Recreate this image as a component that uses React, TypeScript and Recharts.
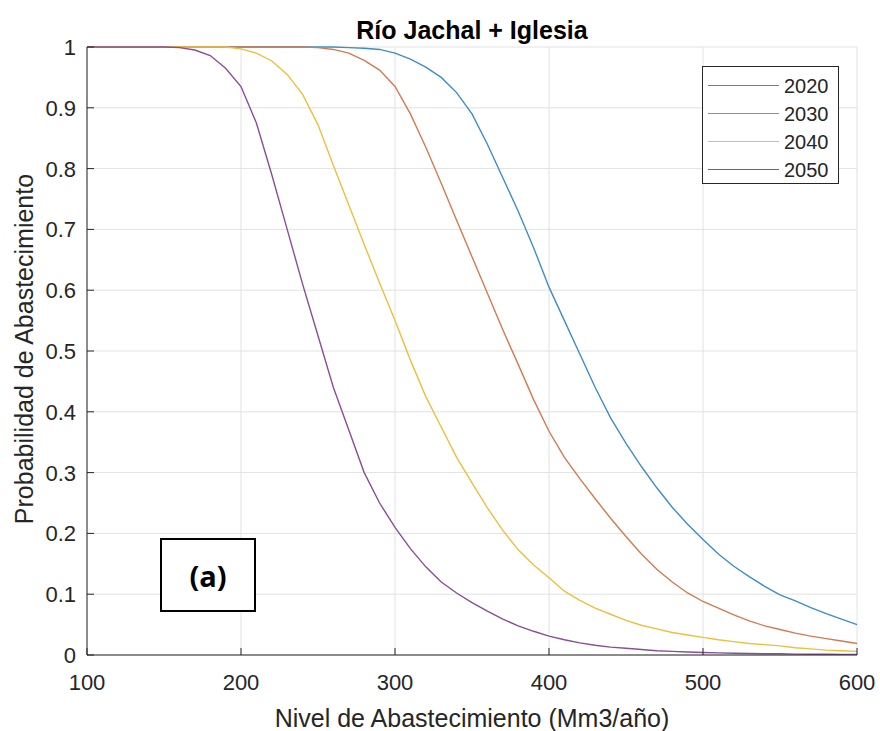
import { LineChart, Line, XAxis, YAxis, CartesianGrid } from 'recharts';

const levels = [
  100, 110, 120, 130, 140, 150, 160, 170, 180, 190,
  200, 210, 220, 230, 240, 250, 260, 270, 280, 290,
  300, 310, 320, 330, 340, 350, 360, 370, 380, 390,
  400, 410, 420, 430, 440, 450, 460, 470, 480, 490,
  500, 510, 520, 530, 540, 550, 560, 570, 580, 590, 600,
];

const p2020 = [
  1, 1, 1, 1, 1, 1, 1, 1, 1, 1,
  1, 1, 1, 1, 1, 1, 1, 0.999, 0.998, 0.996,
  0.99, 0.98, 0.967, 0.95, 0.925, 0.89, 0.84, 0.785, 0.73, 0.67,
  0.605, 0.55, 0.495, 0.44, 0.39, 0.348, 0.31, 0.275, 0.243, 0.215,
  0.19, 0.166, 0.146, 0.129, 0.113, 0.099, 0.089, 0.078, 0.068, 0.059, 0.05,
];

const p2030 = [
  1, 1, 1, 1, 1, 1, 1, 1, 1, 1,
  1, 1, 1, 1, 1, 0.999, 0.996, 0.99, 0.978, 0.962,
  0.935, 0.89, 0.835, 0.776, 0.715, 0.655, 0.595, 0.535, 0.478, 0.42,
  0.368, 0.325, 0.29, 0.257, 0.225, 0.195, 0.166, 0.141, 0.12, 0.102,
  0.088, 0.077, 0.066, 0.056, 0.048, 0.042, 0.036, 0.031, 0.027, 0.023, 0.019,
];

const p2040 = [
  1, 1, 1, 1, 1, 1, 1, 1, 1, 1,
  0.997, 0.99, 0.977, 0.955, 0.922, 0.872, 0.805, 0.74, 0.675, 0.612,
  0.55, 0.485, 0.425, 0.375, 0.325, 0.283, 0.242, 0.205, 0.173, 0.148,
  0.127, 0.105, 0.09, 0.077, 0.067, 0.057, 0.049, 0.043, 0.037, 0.033,
  0.029, 0.025, 0.022, 0.019, 0.017, 0.015, 0.012, 0.01, 0.008, 0.007, 0.006,
];

const p2050 = [
  1, 1, 1, 1, 1, 1, 0.999, 0.995, 0.986, 0.965,
  0.935, 0.875, 0.79, 0.7, 0.61, 0.525, 0.44, 0.37, 0.3, 0.25,
  0.21, 0.175, 0.145, 0.12, 0.102, 0.086, 0.072, 0.059, 0.048, 0.039,
  0.031, 0.025, 0.02, 0.016, 0.013, 0.011, 0.009, 0.007, 0.006, 0.005,
  0.004, 0.0035, 0.003, 0.0025, 0.002, 0.002, 0.0015, 0.0013, 0.0012, 0.001, 0.001,
];

const series = [
  { key: '2020', values: p2020, color: '#3d8ec6' },
  { key: '2030', values: p2030, color: '#d47a52' },
  { key: '2040', values: p2040, color: '#ecbf3e' },
  { key: '2050', values: p2050, color: '#8a4d98' },
];

const xTicks = [100, 200, 300, 400, 500, 600];
const yTicks = [0, 0.1, 0.2, 0.3, 0.4, 0.5, 0.6, 0.7, 0.8, 0.9, 1];

const data = levels.map((x, i) => {
  const row: Record<string, number> = { x };
  series.forEach((s) => { row[s.key] = s.values[i]; });
  return row;
});

const ink = '#262626';
const font = '"Liberation Sans", Arial, Helvetica, sans-serif';

const BottomTick = ({ x, y, payload }: any) => (
  <g>
    <line x1={x} x2={x} y1={y} y2={y - 7} stroke={ink} />
    <text x={x} y={y + 35} textAnchor="middle" fill={ink} fontSize={22} fontFamily={font}>
      {payload.value}
    </text>
  </g>
);

const TopTick = ({ x, y }: any) => (
  <line x1={x} x2={x} y1={y} y2={y + 7} stroke={ink} />
);

const LeftTick = ({ x, y, payload }: any) => (
  <g>
    <line x1={x} x2={x + 7} y1={y} y2={y} stroke={ink} />
    <text x={x - 11} y={y + 8} textAnchor="end" fill={ink} fontSize={22} fontFamily={font}>
      {String(Math.round(payload.value * 10) / 10)}
    </text>
  </g>
);

const RightTick = ({ x, y }: any) => (
  <line x1={x} x2={x - 7} y1={y} y2={y} stroke={ink} />
);

export default function App() {
  return (
    <div style={{ position: 'absolute', left: 0, top: 0, width: 880, height: 731, background: '#fff', fontFamily: font }}>
      <LineChart width={880} height={731} data={data} margin={{ top: 47, right: 23, left: 0, bottom: 0 }}>
        <CartesianGrid stroke="#e2e2e2" strokeWidth={1} />
        <XAxis
          dataKey="x" type="number" domain={[100, 600]} ticks={xTicks} height={76}
          tickSize={0} tickMargin={0} tickLine={false} tick={<BottomTick />}
          axisLine={{ stroke: ink }} interval={0}
        />
        <XAxis
          xAxisId="top" orientation="top" dataKey="x" type="number" domain={[100, 600]} ticks={xTicks}
          height={0} tickSize={0} tickMargin={0} tickLine={false} tick={<TopTick />}
          axisLine={{ stroke: ink }} interval={0}
        />
        <YAxis
          type="number" domain={[0, 1]} ticks={yTicks} width={87}
          tickSize={0} tickMargin={0} tickLine={false} tick={<LeftTick />}
          axisLine={{ stroke: ink }} interval={0}
        />
        <YAxis
          yAxisId="right" orientation="right" type="number" domain={[0, 1]} ticks={yTicks} width={0}
          tickSize={0} tickMargin={0} tickLine={false} tick={<RightTick />}
          axisLine={{ stroke: ink }} interval={0}
        />
        {series.map((s) => (
          <Line
            key={s.key} dataKey={s.key} type="linear" stroke={s.color} strokeWidth={1.4}
            dot={false} activeDot={false} isAnimationActive={false}
          />
        ))}
      </LineChart>

      <div style={{ position: 'absolute', left: 0, width: 880, top: 14, textAlign: 'center', paddingLeft: 64, boxSizing: 'border-box', fontSize: 25, fontWeight: 'bold', color: '#000', lineHeight: '32px' }}>
        Río Jachal + Iglesia
      </div>

      <div style={{ position: 'absolute', left: 87, width: 770, top: 702, textAlign: 'center', fontSize: 25, color: ink, lineHeight: '32px' }}>
        Nivel de Abastecimiento (Mm3/año)
      </div>

      <div style={{ position: 'absolute', left: 24, top: 349, width: 0, height: 0 }}>
        <div style={{ position: 'absolute', left: -250, top: -16, width: 500, lineHeight: '32px', textAlign: 'center', transform: 'rotate(-90deg)', fontSize: 25, color: ink, whiteSpace: 'nowrap' }}>
          Probabilidad de Abastecimiento
        </div>
      </div>

      <div style={{ position: 'absolute', left: 702, top: 66, width: 137, height: 118, background: '#fff', border: `1px solid ${ink}`, boxSizing: 'border-box' }}>
        {series.map((s, i) => (
          <div key={s.key} style={{ position: 'absolute', left: 0, top: 5 + i * 28, height: 28, width: 136 }}>
            <div style={{ position: 'absolute', left: 5, top: 13, width: 71, height: 0, borderTop: `1.4px solid ${s.color}` }} />
            <div style={{ position: 'absolute', left: 81, top: 1, fontSize: 20, color: ink, lineHeight: '26px' }}>{s.key}</div>
          </div>
        ))}
      </div>

      <div style={{ position: 'absolute', left: 160, top: 538, width: 96, height: 74, border: '2.5px solid #000', boxSizing: 'border-box', display: 'flex', alignItems: 'center', justifyContent: 'center', fontFamily: '"Open Sans", sans-serif', fontWeight: 'bold', fontSize: 29, color: '#000', background: '#fff' }}>
        (a)
      </div>
    </div>
  );
}
